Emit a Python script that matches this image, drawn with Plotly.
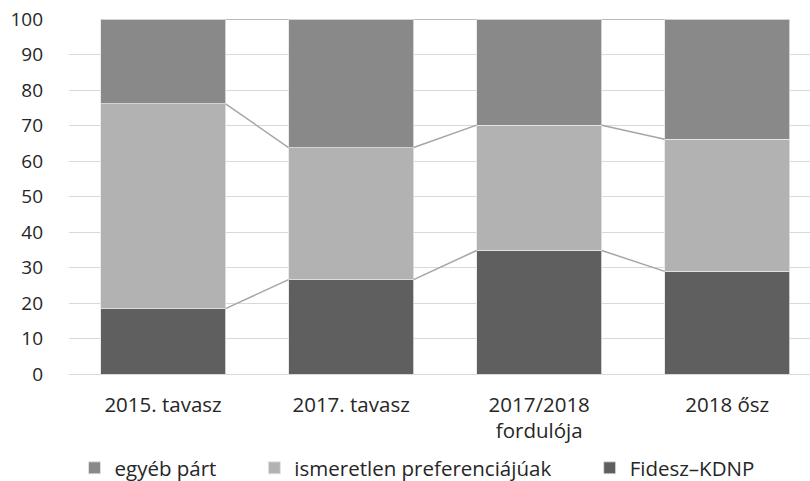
import plotly.graph_objects as go

categories = ["2015. tavasz", "2017. tavasz", "2017/2018<br>fordulója", "2018 ősz"]
fidesz = [18.4, 26.6, 34.8, 28.9]
ismeretlen = [57.7, 37.2, 35.3, 37.2]
egyeb = [23.9, 36.2, 29.9, 33.9]
y_ticks = [0, 10, 20, 30, 40, 50, 60, 70, 80, 90, 100]

series = [
    ("Fidesz–KDNP", fidesz, "#5f5f5f", "legend3"),
    ("ismeretlen preferenciájúak", ismeretlen, "#b2b2b2", "legend2"),
    ("egyéb párt", egyeb, "#898989", "legend"),
]

bar_w = 0.665
xs = list(range(len(categories)))
fig = go.Figure()

cum = [0.0] * len(categories)
tops = []
for name, vals, color, lg in series:
    fig.add_trace(go.Bar(
        x=xs, y=vals, name=name, width=bar_w,
        marker=dict(color=color, line=dict(color="#e6e6e6", width=0.8)),
        legend=lg,
    ))
    cum = [c + v for c, v in zip(cum, vals)]
    tops.append(list(cum))

# series lines connecting segment tops
for top in tops:
    for i in range(len(categories) - 1):
        fig.add_trace(go.Scatter(
            x=[xs[i] + bar_w / 2, xs[i + 1] - bar_w / 2],
            y=[top[i], top[i + 1]],
            mode="lines", line=dict(color="#a5a5a5", width=1.5),
            showlegend=False, hoverinfo="skip",
        ))

font = dict(family="Open Sans", size=20.5, color="#262626")
yfont = dict(family="Open Sans", size=19, color="#262626")
leg_common = dict(orientation="h", yanchor="middle", y=0.027, xanchor="left",
                  xref="container", yref="container",
                  font=font, bgcolor="rgba(0,0,0,0)", itemwidth=30)
fig.update_layout(
    barmode="stack",
    width=810, height=481,
    margin=dict(l=69, r=0, t=19, b=107, autoexpand=False),
    paper_bgcolor="white", plot_bgcolor="white",
    font=font,
    legend=dict(**leg_common, x=0.092),
    legend2=dict(**leg_common, x=0.314),
    legend3=dict(**leg_common, x=0.728),
    xaxis=dict(tickvals=xs, ticktext=categories, range=[-0.5, 3.44],
               showgrid=False, zeroline=False, showline=False,
               ticklabelstandoff=16, tickfont=font, automargin=False),
    yaxis=dict(range=[0, 100], tickvals=y_ticks, showgrid=True,
               gridcolor="#d9d9d9", gridwidth=1.3, zeroline=True,
               zerolinecolor="#d9d9d9", zerolinewidth=1.3,
               ticklabelstandoff=25, tickfont=yfont, automargin=False),
)
fig.write_html("out.html", config={"displayModeBar": False},
               post_script="document.body.style.margin='0';document.body.style.overflow='hidden';")
